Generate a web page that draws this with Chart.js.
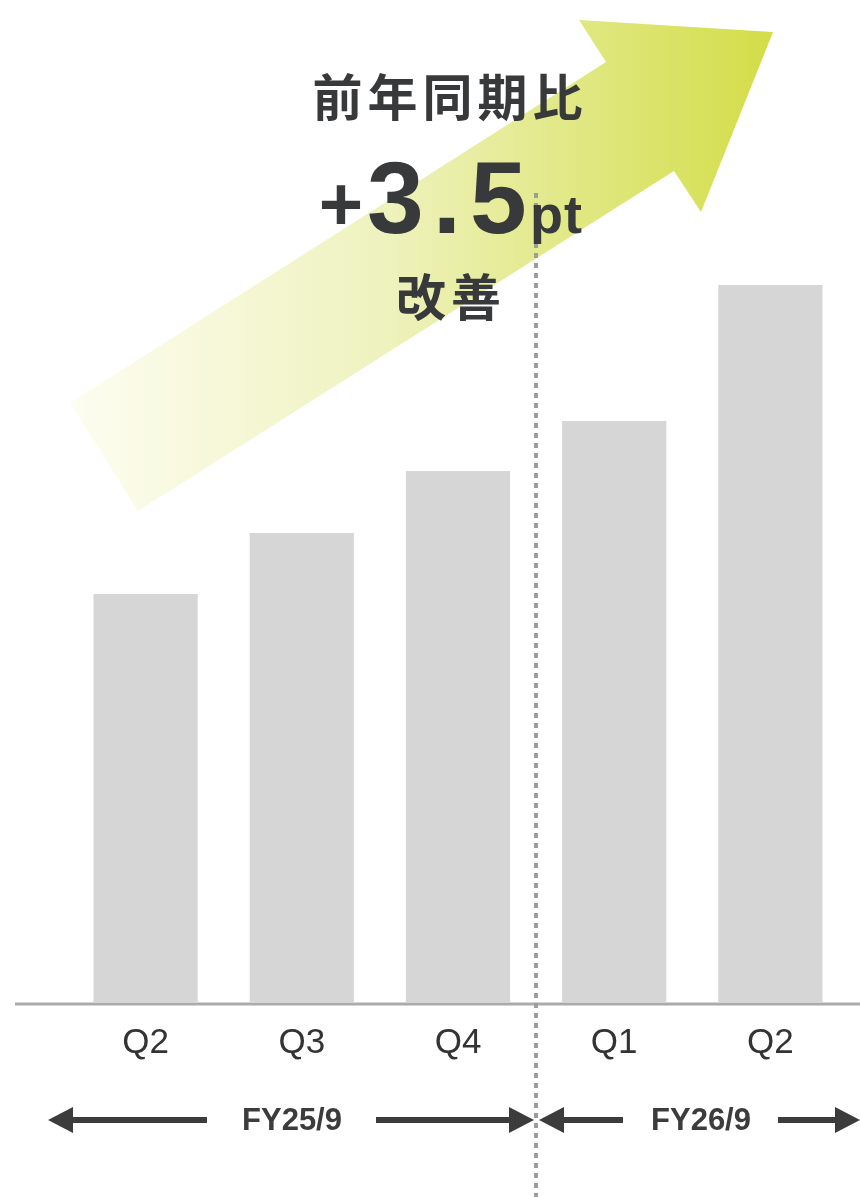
<!DOCTYPE html>
<html>
<head>
<meta charset="utf-8">
<script src="https://cdn.jsdelivr.net/npm/chart.js@4"></script>
<style>
  html, body { margin: 0; padding: 0; background: #ffffff; }
  #chartBox { width: 860px; height: 1197px; }
</style>
</head>
<body>
<div id="chartBox"><canvas id="ratioChart" width="860" height="1197"></canvas></div>
<script>
// Quarter labels and bar values (arbitrary units)
var quarterLabels = ['Q2', 'Q3', 'Q4', 'Q1', 'Q2'];
var ratioValues = [40.8, 46.9, 53.1, 58.1, 71.7];
// Fiscal year groups under the axis
var fiscalYears = ['FY25/9', 'FY26/9'];
// Headline text on the arrow
var headlineTop = '前年同期比';
var headlineSign = '+';
var headlineNumber = '3.5';
var headlineUnit = 'pt';
var headlineBottom = '改善';

document.addEventListener("DOMContentLoaded", function() {
    var textColor = '#38393b';
    var latinFont = '"Liberation Sans", Arial, Helvetica, sans-serif';
    var cjkFont = '"Noto Sans CJK JP", "Noto Sans CJK SC", sans-serif';

    // Draws the big gradient arrow behind the bars
    var arrowPlugin = {
        id: 'arrowPlugin',
        beforeDatasetsDraw: function(chart) {
            var ctx = chart.ctx;
            ctx.save();
            var grad = ctx.createLinearGradient(70, 0, 773, 0);
            grad.addColorStop(0, '#fdfdf1');
            grad.addColorStop(0.45, '#eef2bd');
            grad.addColorStop(1, '#d3dd47');
            ctx.fillStyle = grad;
            ctx.beginPath();
            ctx.moveTo(70, 403);
            ctx.lineTo(606, 62);
            ctx.lineTo(579, 20);
            ctx.lineTo(773, 32);
            ctx.lineTo(701, 212);
            ctx.lineTo(674, 171);
            ctx.lineTo(138, 511);
            ctx.closePath();
            ctx.fill();
            ctx.restore();
        },
        afterDraw: function(chart) {
            var ctx = chart.ctx;
            var area = chart.chartArea;
            var xScale = chart.scales.x;
            ctx.save();

            // base line across the full width
            ctx.strokeStyle = '#ababab';
            ctx.lineWidth = 3;
            ctx.beginPath();
            ctx.moveTo(15, area.bottom + 2);
            ctx.lineTo(860, area.bottom + 2);
            ctx.stroke();

            // dotted divider between FY25 Q4 and FY26 Q1
            var divX = Math.round((xScale.getPixelForValue(2) + xScale.getPixelForValue(3)) / 2);
            ctx.strokeStyle = '#9c9c9c';
            ctx.lineWidth = 4;
            ctx.setLineDash([5, 5]);
            ctx.beginPath();
            ctx.moveTo(divX, 193);
            ctx.lineTo(divX, 1197);
            ctx.stroke();
            ctx.setLineDash([]);

            // headline text
            ctx.fillStyle = textColor;
            ctx.textBaseline = 'alphabetic';
            ctx.textAlign = 'center';
            ctx.font = 'bold 50px ' + cjkFont;
            ctx.letterSpacing = '5px';
            ctx.fillText(headlineTop, 450, 116);
            ctx.fillText(headlineBottom, 451, 316);

            ctx.letterSpacing = '0px';
            ctx.textBaseline = 'middle';
            ctx.font = 'bold 76px ' + latinFont;
            ctx.fillText(headlineSign, 341, 209);

            ctx.textBaseline = 'alphabetic';
            ctx.textAlign = 'left';
            ctx.font = 'bold 102px ' + latinFont;
            ctx.letterSpacing = '9px';
            ctx.fillText(headlineNumber, 367, 233);
            ctx.letterSpacing = '1px';
            ctx.font = 'bold 54px ' + latinFont;
            ctx.fillText(headlineUnit, 530, 233);
            ctx.letterSpacing = '0px';

            // fiscal year arrows under the axis
            var arrowY = 1120;
            ctx.strokeStyle = '#3c3c3c';
            ctx.fillStyle = '#3c3c3c';
            ctx.lineWidth = 6;
            function line(x1, x2) {
                ctx.beginPath();
                ctx.moveTo(x1, arrowY);
                ctx.lineTo(x2, arrowY);
                ctx.stroke();
            }
            function head(tipX, dir) {
                ctx.beginPath();
                ctx.moveTo(tipX, arrowY);
                ctx.lineTo(tipX + dir * 25, arrowY - 13);
                ctx.lineTo(tipX + dir * 25, arrowY + 13);
                ctx.closePath();
                ctx.fill();
            }
            line(60, 207);
            head(48, 1);
            line(376, 520);
            head(534, -1);
            line(552, 623);
            head(539, 1);
            line(778, 848);
            head(860, -1);

            ctx.font = 'bold 31px ' + latinFont;
            ctx.textAlign = 'center';
            ctx.textBaseline = 'middle';
            ctx.fillText(fiscalYears[0], 292, arrowY + 1);
            ctx.fillText(fiscalYears[1], 701, arrowY + 1);

            ctx.restore();
        }
    };

    var config = {
        type: 'bar',
        data: {
            labels: quarterLabels,
            datasets: [{
                label: 'ratio',
                data: ratioValues,
                backgroundColor: '#d6d6d6',
                borderWidth: 0,
                categoryPercentage: 1,
                barPercentage: 0.667
            }]
        },
        options: {
            responsive: false,
            animation: false,
            layout: {
                padding: { left: 67.5, right: 11.5, top: 2, bottom: 0 }
            },
            plugins: {
                legend: { display: false },
                tooltip: { enabled: false }
            },
            scales: {
                x: {
                    grid: { display: false, drawTicks: false },
                    border: { display: false },
                    ticks: {
                        color: '#333333',
                        padding: 20,
                        font: { family: latinFont, size: 35 }
                    },
                    afterFit: function(scale) {
                        scale.height = 195;
                    }
                },
                y: {
                    display: false,
                    min: 0,
                    max: 100
                }
            }
        },
        plugins: [arrowPlugin]
    };

    var ctx = document.getElementById('ratioChart');
    new Chart(ctx, config);
});
</script>
</body>
</html>
